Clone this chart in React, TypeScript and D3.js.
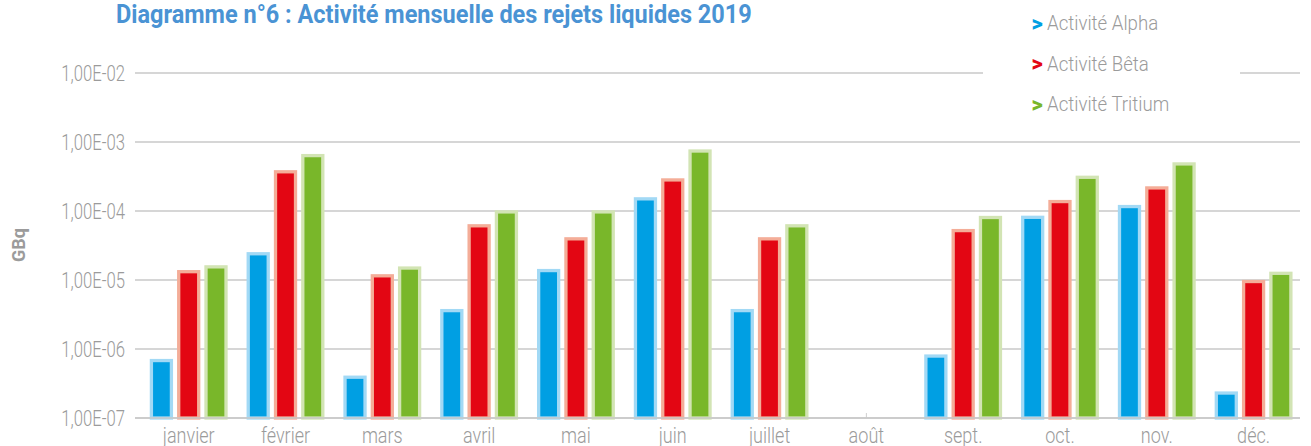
import React from "react";
import * as d3 from "d3";

const months = ["janvier", "février", "mars", "avril", "mai", "juin", "juillet", "août", "sept.", "oct.", "nov.", "déc."];
const seriesNames = ["Activité Alpha", "Activité Bêta", "Activité Tritium"];
const alpha = [6.8e-7, 2.4e-5, 3.9e-7, 3.6e-6, 1.37e-5, 1.5e-4, 3.6e-6, 0, 7.9e-7, 8.1e-5, 1.16e-4, 2.3e-7];
const beta = [1.32e-5, 3.7e-4, 1.15e-5, 6.1e-5, 3.95e-5, 2.82e-4, 3.95e-5, 0, 5.2e-5, 1.37e-4, 2.16e-4, 9.5e-6];
const tritium = [1.55e-5, 6.35e-4, 1.49e-5, 9.7e-5, 9.7e-5, 7.4e-4, 6.1e-5, 0, 8.05e-5, 3.08e-4, 4.81e-4, 1.25e-5];
const yTicks = [1e-7, 1e-6, 1e-5, 1e-4, 1e-3, 1e-2];
const tickLabels = ["1,00E-07", "1,00E-06", "1,00E-05", "1,00E-04", "1,00E-03", "1,00E-02"];

const fills = ["#009fe3", "#e30613", "#79b72a"];
const strokes = ["#a2d9f5", "#f4ad98", "#d2e4b4"];

const W = 1311;
const H = 446;

function CText(props: any) {
  const { x, y, sx = 0.82, children, ...rest } = props;
  return (
    <text transform={`translate(${x},${y}) scale(${sx},1)`} {...rest}>
      {children}
    </text>
  );
}

export default function App() {
  const data = [alpha, beta, tritium];
  const y = d3.scaleLog().domain([1e-7, 1e-2]).range([418, 73]);
  const x = d3.scaleBand<string>().domain(months).range([140.3, 1302]).paddingInner(0).paddingOuter(0);
  const xs = d3
    .scaleBand<string>()
    .domain(seriesNames)
    .range([0, x.bandwidth()])
    .paddingInner(0.2674)
    .paddingOuter(0.407);

  const gridX0 = 135;
  const gridX1 = 1300;
  const gray = "#9b9b9b";

  return (
    <svg width={W} height={H} style={{ position: "absolute", left: 0, top: 0, fontFamily: "Roboto" }}>
      <rect x={0} y={0} width={W} height={H} fill="#ffffff" />
      {yTicks.map((t, i) => (
        <g key={"g" + i}>
          <line x1={gridX0} x2={gridX1} y1={y(t)} y2={y(t)} stroke="#c8c8c8" strokeWidth={1.3} />
          <CText
            x={125}
            y={y(t) + 7.5}
            sx={0.76}
            textAnchor="end"
            fontSize={22}
            fontWeight={300}
            fill={gray}
          >
            {tickLabels[i]}
          </CText>
        </g>
      ))}
      {months.map((m, mi) => (
        <g key={m}>
          {data.map((s, si) =>
            s[mi] > 0 ? (
              <rect
                key={si}
                x={(x(m) as number) + (xs(seriesNames[si]) as number)}
                width={xs.bandwidth()}
                y={y(s[mi])}
                height={y(1e-7) - y(s[mi])}
                fill={fills[si]}
                stroke={strokes[si]}
                strokeWidth={3.3}
              />
            ) : null
          )}
          <CText
            x={(x(m) as number) + x.bandwidth() / 2}
            y={443}
            textAnchor="middle"
            fontSize={22}
            fontWeight={300}
            fill={gray}
          >
            {m}
          </CText>
        </g>
      ))}
      {months.map((m, mi) =>
        data.every((s) => s[mi] === 0) ? (
          <line
            key={"z" + m}
            x1={(x(m) as number) + x.bandwidth() / 2}
            x2={(x(m) as number) + x.bandwidth() / 2}
            y1={y(1e-7) - 5}
            y2={y(1e-7)}
            stroke="#cfcfcf"
            strokeWidth={1}
          />
        ) : null
      )}
      <line x1={gridX0} x2={gridX1} y1={y(1e-7)} y2={y(1e-7)} stroke="#c8c8c8" strokeWidth={1.5} />
      <CText x={116} y={23} sx={0.94} fontSize={25} fontWeight={700} fill="#4a93d4">
        Diagramme n°6 : Activité mensuelle des rejets liquides 2019
      </CText>
      <text
        transform={`translate(25,245) rotate(-90)`}
        textAnchor="middle"
        fontSize={18}
        fontWeight={700}
        fill="#9b9b9b"
      >
        GBq
      </text>
      <rect x={983} y={4} width={257} height={120} fill="#ffffff" />
      {seriesNames.map((s, i) => (
        <g key={s}>
          <CText x={1031.5} y={30.5 + i * 40.5} sx={1} fontSize={22} fontWeight={900} fill={fills[i]}>
            {">"}
          </CText>
          <CText x={1047} y={30 + i * 40.5} sx={0.91} fontSize={20.5} fontWeight={300} fill={gray}>
            {s}
          </CText>
        </g>
      ))}
    </svg>
  );
}
